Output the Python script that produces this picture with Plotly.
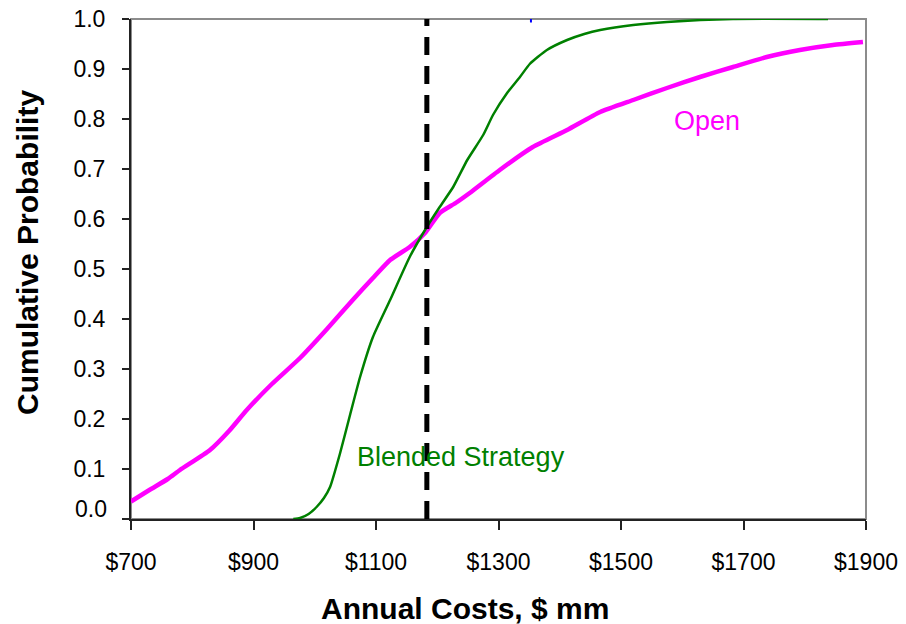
import plotly.graph_objects as go

# Open strategy cumulative distribution
open_cost = [700, 730, 760, 780, 829, 860, 889, 930, 976, 1020, 1062, 1095, 1123, 1155,
             1180, 1204, 1230, 1253, 1302, 1356, 1412, 1466, 1520, 1575, 1629, 1683,
             1738, 1792, 1846, 1895]
open_prob = [0.035, 0.058, 0.08, 0.098, 0.138, 0.176, 0.218, 0.27, 0.322, 0.38, 0.438,
             0.482, 0.518, 0.544, 0.572, 0.612, 0.632, 0.652, 0.698, 0.744, 0.778,
             0.814, 0.838, 0.862, 0.884, 0.904, 0.924, 0.938, 0.948, 0.954]

# Blended strategy cumulative distribution
blend_cost = [965, 976, 990, 1003, 1015, 1025, 1041, 1058, 1074, 1095, 1123, 1155, 1183,
              1204, 1226, 1249, 1275, 1291, 1314, 1335, 1351, 1379, 1412, 1440, 1466,
              1520, 1575, 1683, 1838]
blend_prob = [0.0, 0.002, 0.01, 0.024, 0.042, 0.064, 0.13, 0.21, 0.284, 0.364, 0.438,
              0.524, 0.584, 0.624, 0.664, 0.718, 0.768, 0.808, 0.852, 0.884, 0.91,
              0.938, 0.958, 0.97, 0.978, 0.988, 0.994, 1.0, 1.0]

# Reference cost (dashed line)
ref_cost = [1183, 1183]
ref_prob = [0.0, 1.01]

# Small blue mark near top
blue_cost = [1353, 1353]
blue_prob = [0.993, 1.0]

x_ticks = [700, 900, 1100, 1300, 1500, 1700, 1900]
x_tick_text = ["$700", "$900", "$1100", "$1300", "$1500", "$1700", "$1900"]
y_ticks = [0.0, 0.1, 0.2, 0.3, 0.4, 0.5, 0.6, 0.7, 0.8, 0.9, 1.0]
y_tick_text = ["", "0.1", "0.2", "0.3", "0.4", "0.5", "0.6", "0.7", "0.8", "0.9", "1.0"]

FONT = "Liberation Sans, Arial"

fig = go.Figure()
fig.add_trace(go.Scatter(x=open_cost, y=open_prob, mode="lines",
                         line=dict(color="#FF00FF", width=4.5, shape="spline", smoothing=0.5),
                         name="Open", cliponaxis=False))
fig.add_trace(go.Scatter(x=blend_cost, y=blend_prob, mode="lines",
                         line=dict(color="#008000", width=2.5, shape="spline", smoothing=0.5),
                         name="Blended Strategy", cliponaxis=False))
fig.add_trace(go.Scatter(x=ref_cost, y=ref_prob, mode="lines",
                         line=dict(color="black", width=5, dash="18px,11px"),
                         cliponaxis=False))
fig.add_trace(go.Scatter(x=blue_cost, y=blue_prob, mode="lines",
                         line=dict(color="#0000FF", width=2), cliponaxis=False))

fig.add_annotation(x=1640, y=0.796, text="Open", showarrow=False,
                   font=dict(family=FONT, size=27, color="#FF00FF"))
fig.add_annotation(x=1239, y=0.124, text="Blended Strategy", showarrow=False,
                   font=dict(family=FONT, size=27, color="#008000"))
# 0.0 label sits slightly above its tick in the original
fig.add_annotation(xref="paper", x=0, y=0.02, text="0.0", showarrow=False,
                   xanchor="right", xshift=-22, font=dict(family=FONT, size=23, color="black"))
# axis titles
fig.add_annotation(xref="paper", yref="paper", x=0.455, y=0, yshift=-89, yanchor="middle",
                   text="<b>Annual Costs, $ mm</b>", showarrow=False,
                   font=dict(family=FONT, size=30, color="black"))
fig.add_annotation(xref="paper", yref="paper", x=0, xshift=-104, y=0.532, xanchor="center",
                   text="<b>Cumulative Probability</b>", showarrow=False, textangle=-90,
                   font=dict(family=FONT, size=30, color="black"))

# gray frame (top/right)
fig.add_shape(type="rect", xref="paper", yref="paper", x0=0, y0=0, x1=1, y1=1,
              line=dict(color="#8c8c8c", width=2), layer="below")

fig.update_layout(
    width=906, height=624,
    margin=dict(l=131, r=40, t=19, b=105, autoexpand=False),
    plot_bgcolor="white", paper_bgcolor="white",
    showlegend=False,
    font=dict(family=FONT, size=23, color="black"),
    xaxis=dict(range=[700, 1900], tickvals=x_ticks, ticktext=x_tick_text,
               showgrid=False, zeroline=False, showline=True, linecolor="#222",
               linewidth=2, ticks="outside", ticklen=9, tickwidth=2, tickcolor="#222",
               tickfont=dict(size=23), ticklabelstandoff=12, ticklabeloverflow="allow",
               automargin=False),
    yaxis=dict(range=[0, 1.0], tickvals=y_ticks, ticktext=y_tick_text,
               showgrid=False, zeroline=False, showline=True, linecolor="#222",
               linewidth=2, ticks="outside", ticklen=7, tickwidth=2, tickcolor="#222",
               tickfont=dict(size=23), ticklabelstandoff=12, ticklabeloverflow="allow",
               automargin=False),
)

fig.write_html("out.html", config={"displayModeBar": False},
               post_script="document.body.style.margin='0';document.body.style.overflow='hidden';")
